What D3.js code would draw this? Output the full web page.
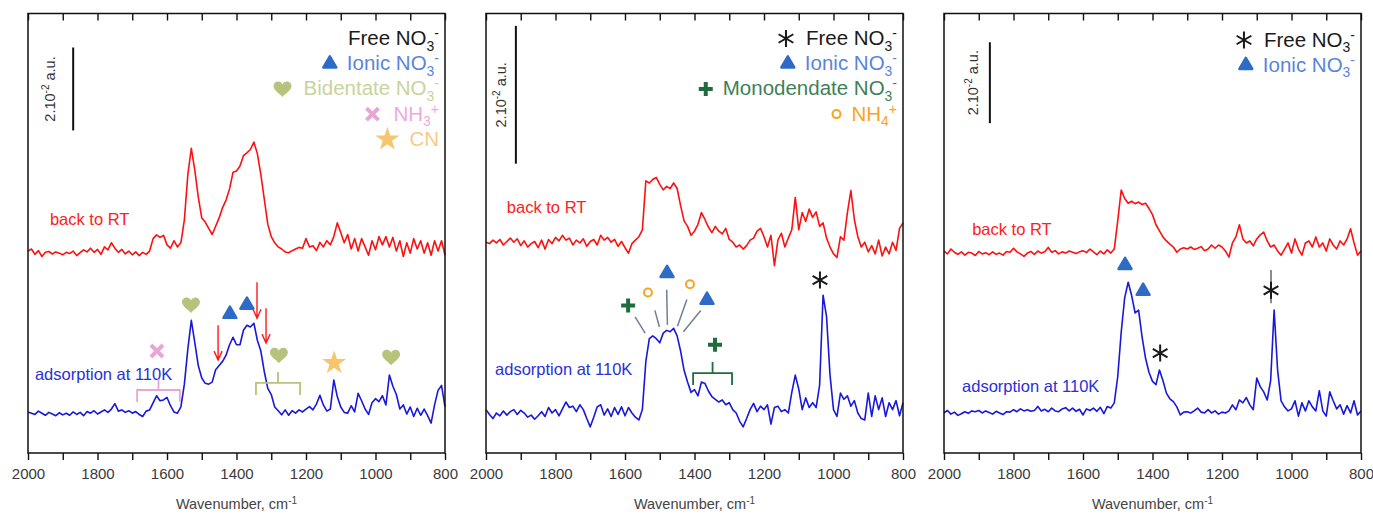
<!DOCTYPE html>
<html>
<head>
<meta charset="utf-8">
<script src="https://d3js.org/d3.v7.min.js"></script>
<style>
  body { margin: 0; background: #fff; }
  svg { display: block; font-family: "Liberation Sans", Arial, sans-serif; }
</style>
</head>
<body>
<div id="chart"></div>
<script>
// spectral grid (cm-1), shared by all traces
const wavenumbers = d3.range(2000, 799, -10);

// absorbance, 10^-3 a.u., relative to each trace's own baseline
// panel A
const rtA = [
  0.5, 1.0, -0.3, 0.6, -0.8, 0.2, 0.4, -0.2, 0.3, 0.0,
  -0.4, 0.2, -0.1, 0.5, -0.6, 0.1, 0.8, 0.3, 1.2, 0.2,
  0.9, -0.3, 1.5, 0.8, 2.5, 1.2, 0.2, 0.9, -0.2, 0.5,
  -0.4, 0.3, -0.6, 0.2, -0.3, 0.5, 3.5, 4.4, 3.8, 4.3,
  2.0, 1.2, 3.0, 1.5, 2.5, 8.0, 19.0, 25.3, 20.0, 13.5,
  8.5, 7.5, 6.0, 4.5, 6.5, 8.5, 11.0, 12.8, 15.5, 19.5,
  19.8, 21.0, 23.5, 24.2, 25.0, 26.8, 24.0, 19.0, 13.0, 7.0,
  4.0, 2.5, 1.5, 1.0, 0.3, 0.1, 0.6, 1.0, 1.4, 1.2,
  3.5, 1.5, 1.8, 0.6, 2.6, 1.5, 3.0, 2.0, 4.0, 7.3,
  5.0, 2.5, 4.5, 1.0, 3.5, 0.5, 3.5, 1.5, -0.5, 3.0,
  0.8, 4.0, 2.0, 4.0, 1.5, 3.8, 0.5, 3.0, -0.8, 2.5,
  0.0, 3.5, 1.0, 3.0, 0.0, 2.5, -0.5, 3.0, 0.5, 3.0,
  -0.5
];
const lowA = [
  0.3, 0.0, -0.3, 0.5, 0.0, -0.5, 0.2, -0.2, -0.6, 0.1,
  -0.4, 0.0, -0.5, 0.3, -0.3, 0.2, -0.6, 0.4, 0.0, 0.6,
  -0.2, 0.3, 0.8, 0.2, 1.0, 2.3, 0.5, 0.8, 0.2, 0.6,
  0.0, 0.4, -0.3, -0.8, 0.5, 0.8, 2.5, 4.2, 3.0, 3.2,
  3.8, 1.8, 0.3, 0.0, 1.5, 7.0, 15.5, 22.4, 17.0, 11.5,
  8.5, 7.2, 7.0, 7.5, 10.5, 11.5, 12.5, 14.0, 16.5, 18.3,
  16.5, 16.5, 20.0, 21.2, 20.8, 21.7, 17.6, 15.0, 10.0, 6.0,
  4.5, 1.5, 0.6, -0.4, 0.8, -0.5, 0.6, 0.0, 0.8, 0.3,
  1.0, 1.6, 0.8, 2.2, 4.3, 2.0, 0.5, 1.0, 8.0, 4.0,
  1.5, 0.2, 0.0, 1.8, 0.3, 4.8, 3.0, 1.0, -0.3, 2.5,
  3.5, 2.8, 4.2, 2.0, 9.2, 6.5, 4.5, 1.0, 2.0, -0.2,
  1.5, -0.8, 1.2, -0.5, 1.0, -0.6, -2.4, 2.0, 5.5, 6.7,
  1.5
];
// panel B
const rtB = [
  0.2, 0.0, 0.5, 0.1, 0.6, -0.2, 0.3, 0.8, 0.2, 0.7,
  -0.3, 0.4, -0.5, 0.0, 0.3, -0.6, 0.5, -0.8, 0.6, 0.0,
  0.9, 0.4, 1.2, 0.5, 0.8, -0.2, 0.5, 0.1, 0.7, -0.4,
  0.3, 0.6, -0.2, 1.2, 0.5, 0.9, 0.2, 0.6, -0.4, 0.3,
  -0.6, -1.4, 0.0, 0.5, 1.0, 2.0, 9.1, 8.8, 9.3, 9.6,
  8.6, 7.8, 8.3, 8.0, 8.8, 8.0, 5.5, 3.3, 2.5, 1.2,
  1.8, 2.8, 4.5, 3.5, 2.4, 1.6, 2.5, 1.8, 1.4, 2.2,
  0.6, 0.2, -0.5, -0.2, -0.8, -0.3, 0.5, 0.8, 1.8, 2.2,
  1.0, -0.5, 1.2, -3.2, 0.5, 1.5, -0.5, 0.8, 2.0, 6.7,
  2.0, 4.5, 3.2, 5.0, 3.8, 4.6, 2.5, 3.0, 0.8, -0.5,
  -1.5, -2.0, 1.0, 0.5, 4.5, 7.7, 3.5, 1.0, -0.5, 0.2,
  -1.2, -0.3, -1.5, 0.5, -1.8, -0.5, -1.5, 0.2, -1.0, 2.2,
  3.0
];
const lowB = [
  0.5, -0.2, -0.8, 0.0, -0.4, 0.3, -0.3, 0.2, 0.5, -0.2,
  0.4, 0.0, -0.6, -0.3, -0.9, -0.4, 0.2, -0.5, 0.8, 0.0,
  0.5, -0.4, 0.6, 1.6, 0.8, 1.0, 0.2, 1.2, 0.5, -0.8,
  -2.0, -0.6, 0.9, 1.2, -0.3, 0.6, -0.5, 0.8, -0.2, 0.9,
  -0.4, 0.8, 0.0, -0.6, -1.0, 0.5, 7.5, 10.8, 11.2, 10.8,
  10.2, 11.6, 12.0, 11.8, 12.3, 11.2, 9.0, 6.2, 4.5, 3.0,
  3.4, 2.5, 4.5, 4.3, 3.2, 2.4, 2.0, 1.6, 1.9, 1.2,
  1.5, 0.5, 0.0, -1.2, -2.0, -0.8, 0.5, 1.4, 0.2, 1.0,
  0.5, 1.2, -1.6, 0.8, 1.0, 0.2, 0.5, 0.0, 3.0, 5.5,
  3.5, 0.5, 2.2, 0.8, 1.5, 0.8, 4.0, 17.1, 14.0, 5.5,
  0.5, -0.5, 2.9, 2.0, 2.5, 1.0, 1.8, 0.0, -0.8, -1.0,
  2.9, -0.5, 2.5, 0.5, 2.2, -0.5, 1.5, 0.5, 1.8, -0.4,
  1.5
];
// panel C
const rtC = [
  0.5, -0.2, 1.0, 0.2, -0.3, 0.3, -0.5, 0.2, 0.0, -0.6,
  0.4, -0.2, 0.1, -0.4, 0.3, -0.3, 0.0, -0.5, 0.4, 0.2,
  1.2, 0.3, -0.2, -0.8, 0.0, 0.4, -0.3, 0.5, 0.0, 0.3,
  1.4, 0.2, 0.6, -0.2, 0.3, 0.0, 0.5, 0.2, -0.1, 0.3,
  0.6, 0.1, 1.0, 0.3, -0.4, 0.5, -0.2, 0.8, 0.0, 1.0,
  8.0, 15.6, 13.5, 12.3, 12.8, 12.2, 12.6, 12.0, 12.3, 11.0,
  9.5, 7.0, 5.5, 4.0, 3.0, 2.2, 1.5, 0.2, 1.0, 1.3,
  1.0, 1.5, 0.9, 1.2, 1.6, 0.6, 1.0, 2.0, 1.2, 2.0,
  1.5, 0.5, -1.0, 2.5, 4.0, 7.0, 3.5, 2.5, 3.0, 1.8,
  3.5, 4.5, 5.2, 3.0, 1.5, 2.0, 0.5, -0.5, 1.0, 2.5,
  0.0, 3.5, 1.0, -0.5, 2.5, 3.0, 1.5, 4.0, 1.5, 2.5,
  0.5, 3.5, 2.0, 1.0, 3.0, 2.0, 3.5, 6.0, 2.5, -0.5,
  0.5
];
const lowC = [
  0.0, 0.6, -0.3, 0.2, -0.6, -0.2, 0.3, -0.1, 0.5, 0.3,
  0.6, 0.0, 0.5, 0.1, -0.3, 0.4, 0.0, -0.4, 0.3, 0.2,
  0.8, 0.3, 1.0, 0.5, 0.8, 0.4, 0.6, 1.6, 0.5, 0.9,
  0.3, 1.2, 0.5, 0.3, 1.0, 1.3, 0.5, 1.2, 0.4, 0.9,
  -0.5, 1.0, 0.6, 1.2, 0.4, 1.4, -0.2, 1.6, 1.2, 2.5,
  9.0, 20.0, 28.5, 32.3, 29.0, 24.7, 25.4, 18.8, 13.5, 10.0,
  7.8, 7.0, 10.6, 8.0, 4.9, 3.5, 2.8, 1.5, -0.5, 0.2,
  0.3, 0.0, 0.5, 1.2, 0.2, 0.0, 0.8, 0.0, 0.5, -0.3,
  0.2, 0.0, 0.5, 2.0, 0.8, 3.2, 2.5, 3.8, 2.0, 0.8,
  8.6, 6.5, 5.2, 3.2, 8.0, 25.4, 10.6, 3.0, 1.5, 0.5,
  1.0, 3.0, -0.8, 2.5, 0.5, 3.0, 1.5, 0.5, 5.5, 0.5,
  -0.8, 5.2, 3.0, 1.0, 2.0, -0.3, 1.8, 0.0, 3.0, -0.5,
  0.5
];

// vertical offsets of the traces [back to RT, 110K] and full y range, 10^-3 a.u.
const traceOffsets = [[48.2, 9.6], [30.4, 5.8], [49.4, 9.9]];
const yTops = [106, 63.8, 108.6];
// 2.10^-2 a.u. scale bar: [wavenumber, top value]
const scaleBars = [[1870, 97.8], [1914, 62], [1868, 101.5]];
const scaleBarLength = 20;

// x axis ticks
const minorTicks = d3.range(2000, 799, -100);
const tickLabels = [2000, 1800, 1600, 1400, 1200, 1000, 800];

// legend entries per panel
const legends = [
  ["freeNoMark", "ionic", "bident", "nh3", "cn"],
  ["free", "ionic", "mono", "nh4"],
  ["free", "ionic"]
];
const speciesLabels = {
  free: ["Free NO", "3", "-"], freeNoMark: ["Free NO", "3", "-"],
  ionic: ["Ionic NO", "3", "-"], bident: ["Bidentate NO", "3", "-"],
  nh3: ["NH", "3", "+"], cn: ["CN", "", ""],
  mono: ["Monodendate NO", "3", "-"], nh4: ["NH", "4", "+"]
};

// band assignments on the 110K traces: [species, wavenumber, value]
const marksA = [["nh3", 1629, 24.6], ["bident", 1531, 35.7], ["ionic", 1419, 33.5], ["ionic", 1370, 35.7],
                ["bident", 1278, 23.6], ["cn", 1119, 21.7], ["bident", 955, 23.1]];
const marksB = [["mono", 1591, 21.4], ["nh4", 1534, 23.3], ["ionic", 1479, 26.1], ["nh4", 1413, 24.5],
                ["ionic", 1364, 22.2], ["mono", 1341, 15.7], ["free", 1039, 25.1]];
const marksC = [["ionic", 1479, 46.4], ["ionic", 1427, 40], ["free", 1378, 24.7], ["free", 1059, 40.2]];
// brackets: [species, from, to, value]
const bracketsA = [["nh3", 1686, 1563, 15.2], ["bident", 1344, 1217, 16.9]];
const bracketsB = [["mono", 1404, 1292, 11.6]];
// red arrows (panel A): [wavenumber, from, to]
const arrowsA = [[1453, 30.8, 22.4], [1341, 41.2, 32.5], [1315, 34.9, 26.5]];
// leader lines: [w1, v1, w2, v2]
const leadersB = [[1571, 19.75, 1542, 17.4], [1514, 20.7, 1501, 18.3], [1480, 23.7, 1478, 18.6],
                  [1422, 22.3, 1449, 18.4], [1382, 20.7, 1432, 17.6]];
const leadersC = [[1059, 45.2, 1059, 37]];
// trace labels: [wavenumber, value]
const rtLabelPos = [[1937, 54.9], [1940, 34.9], [1919, 53.8]];
const lowLabelPos = [[1980, 17.6], [1974, 11.3], [1948, 15.1]];

const panels = [
  { rt: rtA, low: lowA, marks: marksA, brackets: bracketsA, arrows: arrowsA, leaders: [] },
  { rt: rtB, low: lowB, marks: marksB, brackets: bracketsB, arrows: [], leaders: leadersB },
  { rt: rtC, low: lowC, marks: marksC, brackets: [], arrows: [], leaders: leadersC }
];

// ---- styles
const markColor = { free: "#1a1a1a", ionic: "#2d6bc6", bident: "#b7c37d", nh3: "#e8a5d6",
                    cn: "#f6c56c", mono: "#1f6c3c", nh4: "#f5a524" };
const textColor = { free: "#1a1a1a", freeNoMark: "#1a1a1a", ionic: "#5a84dc", bident: "#c9d39d",
                    nh3: "#efa9de", cn: "#f8ca86", mono: "#3f7f57", nh4: "#f7a51e" };
const markGap = { free: 20, ionic: 17, bident: 21, nh3: 21, cn: 22, mono: 17, nh4: 15 };

const frameLeft = [28, 486, 944], frameTop = 13.5, frameW = 417, frameH = 439.5;
const scaleLabelDx = [-18, -10, -12];
const legendSize = 20.5;

const svg = d3.select("#chart").append("svg")
  .attr("width", 1373).attr("height", 517);
svg.append("rect").attr("width", 1373).attr("height", 517).attr("fill", "#fff");

function heartPath(r) {
  return `M0,${r * 0.9} C${-r * 0.2},${r * 0.6} ${-r},${r * 0.15} ${-r},${-r * 0.3}` +
    ` C${-r},${-r * 0.85} ${-r * 0.25},${-r * 1.05} 0,${-r * 0.5}` +
    ` C${r * 0.25},${-r * 1.05} ${r},${-r * 0.85} ${r},${-r * 0.3}` +
    ` C${r},${r * 0.15} ${r * 0.2},${r * 0.6} 0,${r * 0.9} Z`;
}

function drawMark(g, sp, cx, cy) {
  const col = markColor[sp];
  const m = g.append("g").attr("transform", `translate(${cx},${cy})`);
  if (sp === "ionic") {
    m.append("path").attr("d", d3.symbol(d3.symbolTriangle, 72)())
      .attr("fill", col).attr("stroke", col).attr("stroke-width", 2.5).attr("stroke-linejoin", "round");
  } else if (sp === "bident") {
    m.append("path").attr("d", heartPath(9)).attr("fill", col);
  } else if (sp === "cn") {
    m.append("path").attr("d", d3.symbol(d3.symbolStar, 180)()).attr("fill", col);
  } else if (sp === "nh3") {
    m.append("path").attr("d", "M-6,-6L6,6M-6,6L6,-6")
      .attr("stroke", col).attr("stroke-width", 4).attr("fill", "none");
  } else if (sp === "mono") {
    m.append("path").attr("d", "M-7,0H7M0,-7V7")
      .attr("stroke", col).attr("stroke-width", 4).attr("fill", "none");
  } else if (sp === "nh4") {
    m.append("circle").attr("r", 4).attr("fill", "none").attr("stroke", col).attr("stroke-width", 2);
  } else if (sp === "free") {
    const r = 8.5;
    const arms = [90, 30, -30].map(a => {
      const t = a * Math.PI / 180, dx = r * Math.cos(t), dy = r * Math.sin(t);
      return `M${-dx},${dy}L${dx},${-dy}`;
    }).join("");
    m.append("path").attr("d", arms).attr("stroke", col).attr("stroke-width", 2).attr("fill", "none");
  }
}

function chemText(t, parts, size) {
  t.append("tspan").text(parts[0]);
  if (parts[1]) t.append("tspan").attr("dy", size * 0.28).attr("font-size", size * 0.68).text(parts[1]);
  if (parts[2]) t.append("tspan").attr("dy", parts[1] ? -size * 0.62 : -size * 0.35)
    .attr("font-size", size * 0.68).text(parts[2]);
}

panels.forEach((p, i) => {
  const g = svg.append("g").attr("transform", `translate(${frameLeft[i]},${frameTop})`);
  const x = d3.scaleLinear().domain([2000, 800]).range([0, frameW]);
  const y = d3.scaleLinear().domain([0, yTops[i]]).range([frameH, 0]);

  // traces
  const [offRT, offLow] = traceOffsets[i];
  const line = off => d3.line().x((d, j) => x(wavenumbers[j])).y(d => y(d + off));
  g.append("path").datum(p.rt).attr("d", line(offRT))
    .attr("fill", "none").attr("stroke", "#ff1010").attr("stroke-width", 1.6).attr("stroke-linejoin", "round");
  g.append("path").datum(p.low).attr("d", line(offLow))
    .attr("fill", "none").attr("stroke", "#1818dc").attr("stroke-width", 1.6).attr("stroke-linejoin", "round");

  // trace labels
  g.append("text").attr("x", x(rtLabelPos[i][0])).attr("y", y(rtLabelPos[i][1]))
    .attr("font-size", 16.5).attr("fill", "#ff2020").text("back to RT");
  g.append("text").attr("x", x(lowLabelPos[i][0])).attr("y", y(lowLabelPos[i][1]))
    .attr("font-size", 16.5).attr("fill", "#2a30d8").text("adsorption at 110K");

  // scale bar
  const [sbW, sbTop] = scaleBars[i];
  g.append("line").attr("x1", x(sbW)).attr("x2", x(sbW))
    .attr("y1", y(sbTop)).attr("y2", y(sbTop - scaleBarLength))
    .attr("stroke", "#111").attr("stroke-width", 2);
  const sbt = g.append("text")
    .attr("transform", `translate(${x(sbW) + scaleLabelDx[i]},${(y(sbTop) + y(sbTop - scaleBarLength)) / 2}) rotate(-90)`)
    .attr("text-anchor", "middle").attr("font-size", 14.5).attr("fill", "#333");
  sbt.append("tspan").text("2.10");
  sbt.append("tspan").attr("dy", -6).attr("font-size", 10).text("-2");
  sbt.append("tspan").attr("dy", 6).text(" a.u.");

  // brackets
  p.brackets.forEach(([sp, w1, w2, v]) => {
    const yh = y(v), xm = (x(w1) + x(w2)) / 2;
    g.append("path")
      .attr("d", `M${x(w1)},${yh + 12}L${x(w1)},${yh}L${x(w2)},${yh}L${x(w2)},${yh + 12}M${xm},${yh}L${xm},${yh - 11}`)
      .attr("fill", "none").attr("stroke", markColor[sp]).attr("stroke-width", 1.8);
  });

  // arrows
  p.arrows.forEach(([w, v1, v2]) => {
    const ax = x(w), y1 = y(v1), y2 = y(v2);
    g.append("path").attr("d", `M${ax},${y1}L${ax},${y2}M${ax - 4},${y2 - 9}L${ax},${y2}L${ax + 4},${y2 - 9}`)
      .attr("fill", "none").attr("stroke", "#ff1a1a").attr("stroke-width", 1.4);
  });

  // leader lines
  p.leaders.forEach(([w1, v1, w2, v2]) => {
    g.append("line").attr("x1", x(w1)).attr("y1", y(v1)).attr("x2", x(w2)).attr("y2", y(v2))
      .attr("stroke", i === 2 ? "#666" : "#6e7f96").attr("stroke-width", 1.5);
  });

  // band markers
  p.marks.forEach(([sp, w, v]) => drawMark(g, sp, x(w), y(v)));

  // legend
  legends[i].forEach((sp, r) => {
    const base = (i === 2 ? 33 : 31.5) + 25.2 * r;
    const t = g.append("text").attr("x", frameW - 6).attr("y", base)
      .attr("text-anchor", "end").attr("font-size", legendSize).attr("fill", textColor[sp]);
    chemText(t, speciesLabels[sp], legendSize);
    if (markColor[sp]) {
      const bb = t.node().getBBox();
      drawMark(g, sp, bb.x - markGap[sp], base - 6.5);
    }
  });

  // axes
  const bottom = g.append("g").attr("transform", `translate(0,${frameH})`)
    .call(d3.axisBottom(x).tickValues(minorTicks).tickSize(7).tickPadding(8.5)
      .tickFormat(d => tickLabels.includes(d) ? d : ""));
  const top = g.append("g")
    .call(d3.axisTop(x).tickValues(minorTicks).tickSize(-7).tickFormat(""));
  [bottom, top].forEach(a => {
    a.select(".domain").remove();
    a.selectAll(".tick line").attr("stroke", "#111").attr("stroke-width", 1.4);
  });
  bottom.selectAll(".tick text").attr("font-size", 15).attr("fill", "#3a3a3a")
    .attr("font-family", "Liberation Sans, Arial, sans-serif");

  g.append("rect").attr("width", frameW).attr("height", frameH)
    .attr("fill", "none").attr("stroke", "#111").attr("stroke-width", 1.5);

  const title = g.append("text").attr("x", frameW / 2).attr("y", 495)
    .attr("text-anchor", "middle").attr("font-size", 14.5).attr("fill", "#444");
  title.append("tspan").text("Wavenumber, cm");
  title.append("tspan").attr("dy", -5).attr("font-size", 10).text("-1");
});
</script>
</body>
</html>
